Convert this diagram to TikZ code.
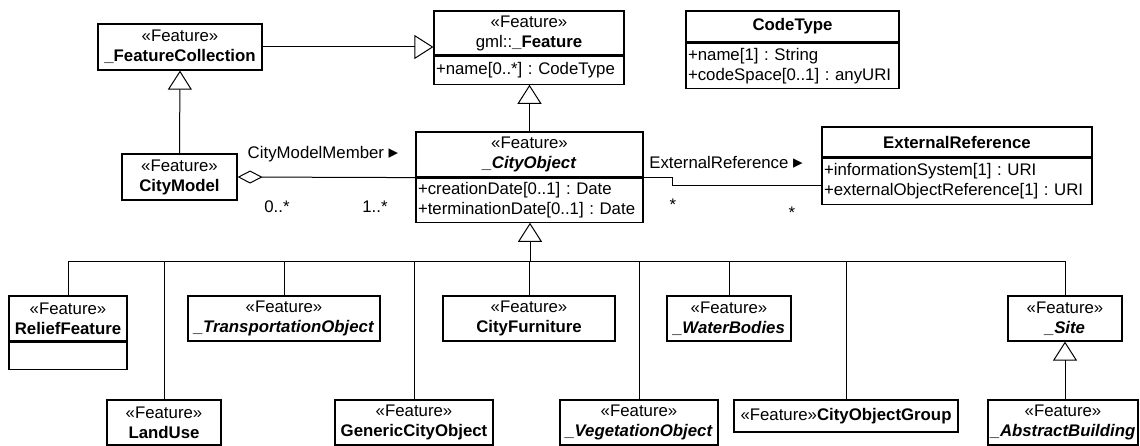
\documentclass[tikz,border=0pt]{standalone}
\usepackage{fontspec}
\setmainfont{Liberation Sans}
\newfontfamily\tripfont{DejaVu Sans}
\usetikzlibrary{arrows.meta}
\frenchspacing
\newcommand{\stereo}{«Feature»}
\newcommand{\dirmark}{{\tripfont\fontsize{19}{19}\selectfont ▸}}

\begin{document}
\begin{tikzpicture}[x=1pt,y=-1pt,
  every node/.style={font=\fontsize{16.8}{20}\selectfont},
  cls/.style={draw, line width=1.2pt, align=center, inner sep=0pt},
  attr/.style={draw, line width=1.2pt, align=left, anchor=north, inner xsep=2pt, inner ysep=0pt},
  link/.style={line width=1pt},
  gen/.style={link, -{Triangle[open,length=19pt,width=24pt]}},
  aggr/.style={link, {Diamond[open,length=25pt,width=13pt]}-}]

\useasboundingbox (0,0) rectangle (1140,446);

% upper classes
\node[cls, minimum width=164pt, minimum height=46pt] (fcoll) at (180,47) {\stereo\\\textbf{\_FeatureCollection}};
\node[cls, minimum width=190pt, minimum height=44pt] (feat) at (529,33) {\stereo\\gml::\textbf{\_Feature}};
\node[attr, text width=186pt, minimum height=28pt] (featA) at (feat.south) {+name[0..*] : CodeType};
\node[cls, minimum width=213pt, minimum height=31pt] (code) at (792.5,26.5) {\textbf{CodeType}};
\node[attr, text width=209pt, minimum height=45pt] (codeA) at (code.south) {+name[1] : String\\+codeSpace[0..1] : anyURI};
\node[cls, minimum width=115pt, minimum height=46pt] (citymodel) at (179.5,177) {\stereo\\\textbf{CityModel}};
\node[cls, minimum width=227pt, minimum height=45pt] (cityobj) at (529.5,154.5) {\stereo\\\textbf{\textit{\_CityObject}}};
\node[attr, text width=223pt, minimum height=44pt] (cityobjA) at (cityobj.south) {+creationDate[0..1] : Date\\+terminationDate[0..1] : Date};
\node[cls, minimum width=270pt, minimum height=30pt] (extref) at (957,142) {\textbf{ExternalReference}};
\node[attr, text width=266pt, minimum height=46pt] (extrefA) at (extref.south) {+informationSystem[1] : URI\\+externalObjectReference[1] : URI};

% subclasses, first row
\node[cls, minimum width=118pt, minimum height=45pt] (relief) at (68,318.5) {\stereo\\\textbf{ReliefFeature}};
\node[attr, text width=114pt, minimum height=27pt] (reliefA) at (relief.south) {};
\node[cls, minimum width=192pt, minimum height=45pt] (transp) at (284,318.5) {\stereo\\\textbf{\textit{\_TransportationObject}}};
\node[cls, minimum width=172pt, minimum height=45pt] (furn) at (529,318.5) {\stereo\\\textbf{CityFurniture}};
\node[cls, minimum width=124pt, minimum height=45pt] (water) at (729,318.5) {\stereo\\\textbf{\textit{\_WaterBodies}}};
\node[cls, minimum width=114pt, minimum height=45pt] (site) at (1065,318.5) {\stereo\\\textbf{\textit{\_Site}}};

% subclasses, second row
\node[cls, minimum width=114pt, minimum height=45pt] (landuse) at (164,422.5) {\stereo\\\textbf{LandUse}};
\node[cls, minimum width=158pt, minimum height=45pt] (generic) at (414,422.5) {\stereo\\\textbf{GenericCityObject}};
\node[cls, minimum width=158pt, minimum height=45pt] (veg) at (639,422.5) {\stereo\\\textbf{\textit{\_VegetationObject}}};
\node[cls, minimum width=224pt, minimum height=32pt] (group) at (846,416) {\stereo\textbf{CityObjectGroup}};
\node[cls, minimum width=150pt, minimum height=45pt] (abstract) at (1063,422.5) {\stereo\\\textbf{\textit{\_AbstractBuilding}}};

% generalisations
\draw[gen] (citymodel.north) -- (fcoll.south);
\draw[gen] (fcoll.east) -- (fcoll.east -| feat.west);
\draw[gen] (cityobj.north) -- (cityobj.north |- featA.south);
\coordinate (hub) at (530,262);
\draw[gen] (hub) -- (hub |- cityobjA.south);
\foreach \n in {relief,landuse,transp,generic,furn,veg,water,group,site}% one branch per subclass
  \draw[link] (\n.north) |- (hub);
\draw[gen] (abstract.north -| site.south) -- (site.south);

% associations
\draw[aggr] (citymodel.east) -- (cityobj.south west);
\draw[link] (cityobj.south east) -- ++(29,0) |- ([yshift=-4pt]extrefA.west);

\node (cmmlabel) at (323,154) {CityModelMember \dirmark};
\node (cmmsrc) at (277,207) {0..*};
\node (cmmdst) at (375,207) {1..*};
\node (erlabel) at (726,162) {ExternalReference \dirmark};
\node (ersrc) at (673,205) {*};
\node (erdst) at (792,213) {*};

\end{tikzpicture}
\end{document}
